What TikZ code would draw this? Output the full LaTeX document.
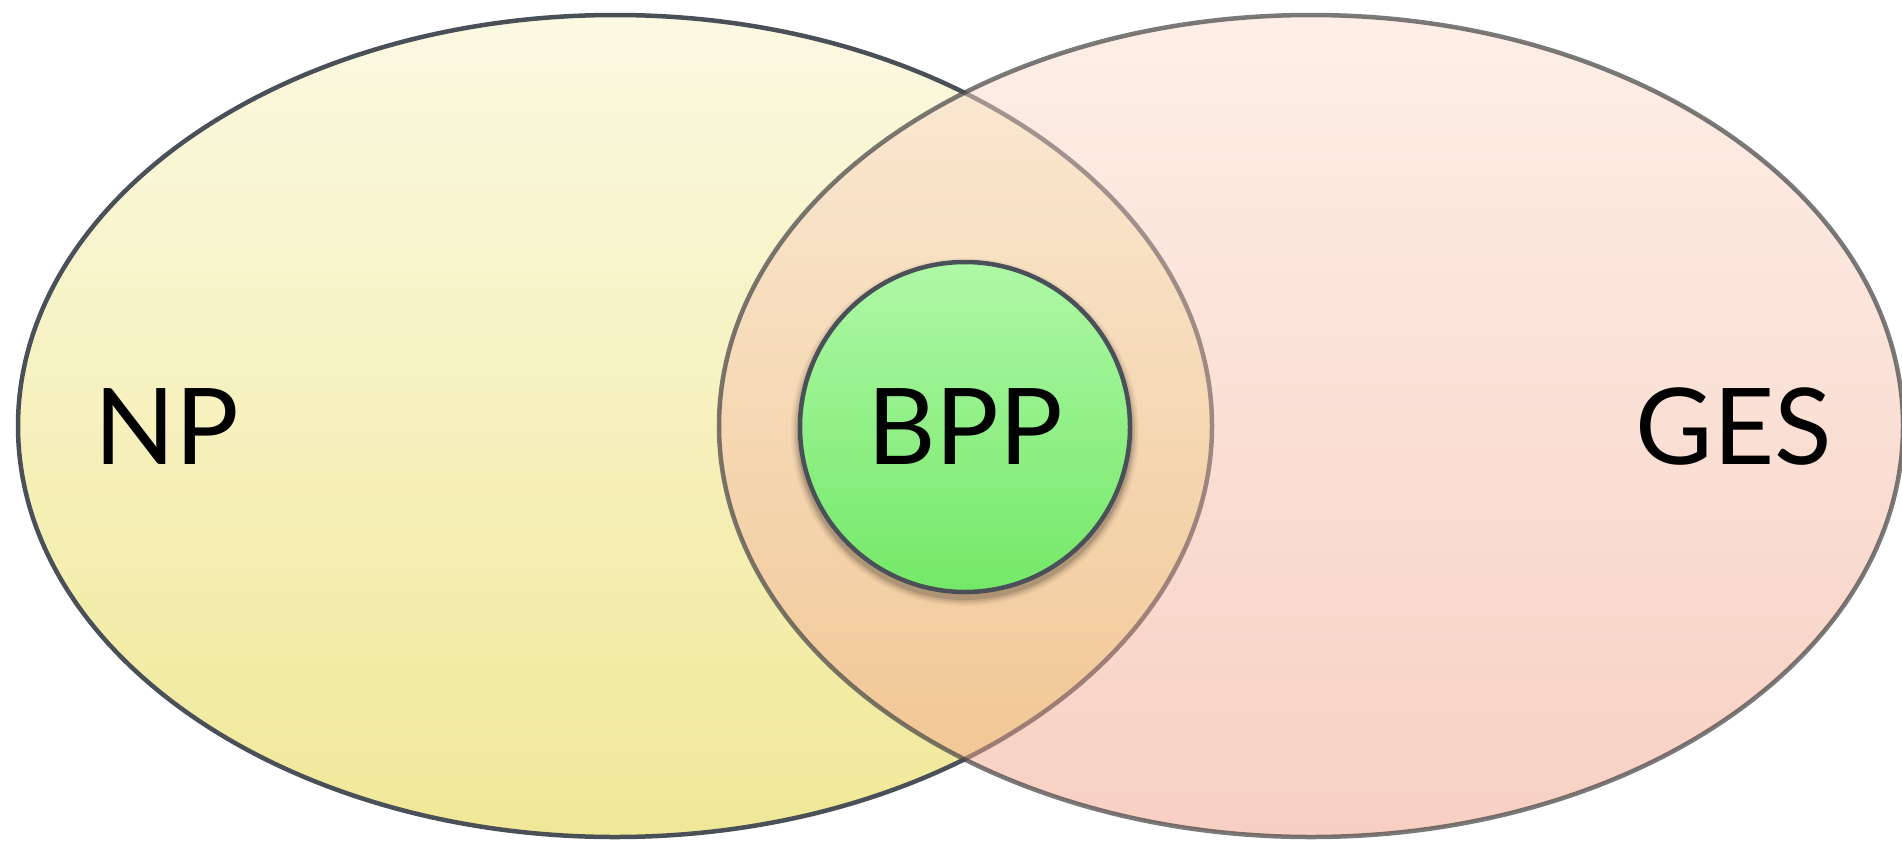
\documentclass[tikz,border=0pt]{standalone}
\usepackage{fontspec}
\setmainfont{Lato}
\usetikzlibrary{shapes.geometric}
\definecolor{rimdark}{HTML}{4A5058}
\definecolor{ytop}{HTML}{FBF9E2}
\definecolor{ybot}{HTML}{F0E897}
\definecolor{ptop}{HTML}{FBDFCF}
\definecolor{pbot}{HTML}{F1A187}
\definecolor{gtop}{HTML}{AEF8A6}
\definecolor{gbot}{HTML}{74E868}
\tikzset{
  setnode/.style={ellipse, inner sep=0pt, line width=4.5pt},
  biglabel/.style={inner sep=0pt, font=\fontsize{106}{106}\selectfont, text=black},
}
\begin{document}
\begin{tikzpicture}[x=1pt,y=-1pt]
\useasboundingbox (0,0) rectangle (1902,841);
\clip (0,0) rectangle (1902,841);
\node[setnode, draw=rimdark, top color=ytop, bottom color=ybot,
      minimum width=1194pt, minimum height=822pt] (np) at (615,426) {};
\node[setnode, draw=black!72, draw opacity=0.72, fill opacity=0.5,
      top color=ptop, bottom color=pbot,
      minimum width=1184pt, minimum height=822pt] (ges) at (1311,426) {};
% soft shadow of the inner circle
\foreach \r/\o in {174/0.04,172/0.06,170/0.09,168/0.12}{
  \fill[black, opacity=\o] (965,432) circle[radius=\r];
}
\node[circle, inner sep=0pt, line width=4.5pt, draw=rimdark,
      top color=gtop, bottom color=gbot, minimum size=330pt] (bpp) at (965,427) {};
\node[biglabel] (nplabel) at (167,427) {NP};
\node[biglabel] (bpplabel) at (bpp.center) {BPP};
\node[biglabel] (geslabel) at (1734,427) {GES};
\end{tikzpicture}
\end{document}
